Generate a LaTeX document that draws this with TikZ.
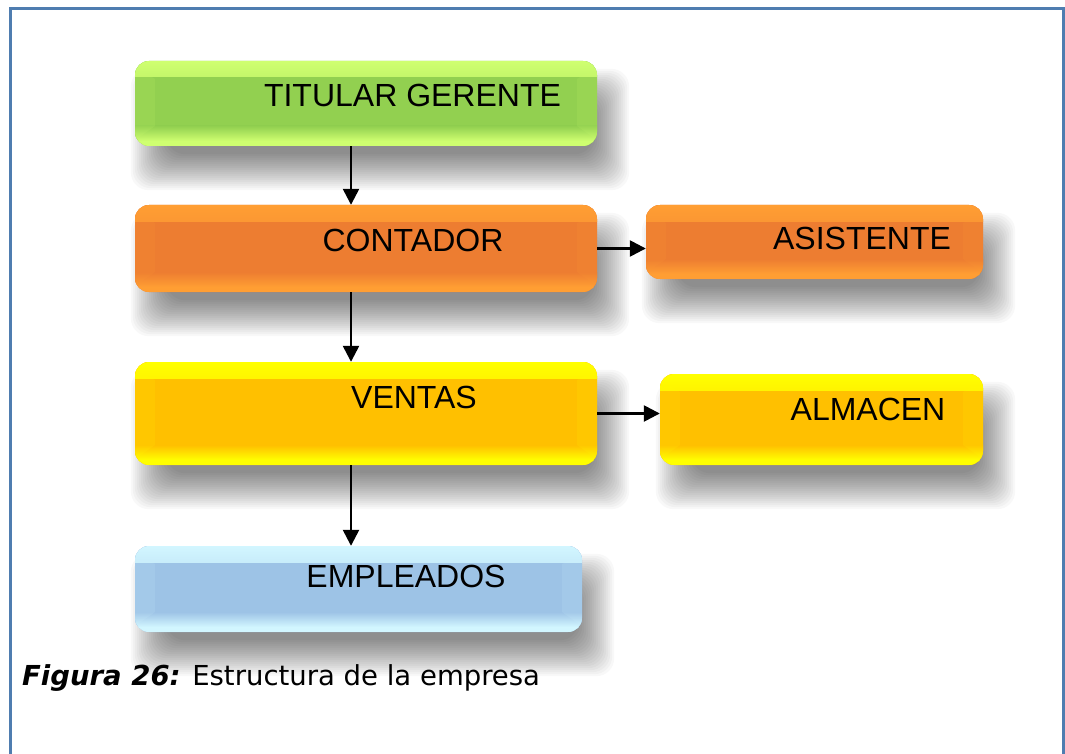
\documentclass[tikz,border=0pt]{standalone}
\usepackage{fontspec}
\setmainfont{Liberation Sans}
\newfontfamily\capfont{DejaVu Sans}
\usetikzlibrary{arrows.meta,calc,backgrounds}
\definecolor{gmain}{HTML}{92D050}
\definecolor{glight}{HTML}{CFFF70}
\definecolor{omain}{HTML}{ED7D31}
\definecolor{olight}{HTML}{FF9E33}
\definecolor{ymain}{HTML}{FFC000}
\definecolor{ylight}{HTML}{FFFF00}
\definecolor{bmain}{HTML}{9DC3E6}
\definecolor{blight}{HTML}{D2F6FF}
\definecolor{framecol}{HTML}{4F7DB0}
\tikzset{
  x=1pt,y=-1pt,
  glossy/.style n args={2}{
    draw=none, fill=#1, rounded corners=14pt, inner sep=0pt,
    path picture={
      \fill[sharp corners, top color=#2, bottom color=#1]
        (path picture bounding box.north west) rectangle ([yshift=-16pt]path picture bounding box.north east);
      \fill[sharp corners, top color=#1, bottom color=#2]
        ([yshift=20pt]path picture bounding box.south west) rectangle ([yshift=5pt]path picture bounding box.south east);
      \fill[sharp corners, #2]
        ([yshift=5pt]path picture bounding box.south west) rectangle (path picture bounding box.south east);
      \fill[sharp corners, #2, opacity=0.12]
        ([yshift=-6pt]path picture bounding box.north west) -- ([xshift=20pt,yshift=-18pt]path picture bounding box.north west)
        -- ([xshift=20pt,yshift=20pt]path picture bounding box.south west) -- ([yshift=6pt]path picture bounding box.south west) -- cycle;
      \fill[sharp corners, #2, opacity=0.12]
        ([yshift=-6pt]path picture bounding box.north east) -- ([xshift=-20pt,yshift=-18pt]path picture bounding box.north east)
        -- ([xshift=-20pt,yshift=20pt]path picture bounding box.south east) -- ([yshift=6pt]path picture bounding box.south east) -- cycle;
    }
  },
  shadowlayer/.style={fill=black, opacity=0.027, rounded corners=18pt},
  lbl/.style={inner sep=0pt, font=\fontsize{32}{36}\selectfont, text=black},
  arr/.style={draw=black, line width=2.5pt, -{Triangle[length=16pt,width=16pt]}},
}
\newcommand{\boxshadow}[1]{%
  \foreach \i in {0,...,18}{%
    \fill[shadowlayer] ($(#1.north west)+(14-18+2*\i,26-18+2*\i)$) rectangle ($(#1.south east)+(14+18-2*\i,26+18-2*\i)$);
  }%
}
\begin{document}
\begin{tikzpicture}
\useasboundingbox (0,0) rectangle (1065,754);

\node[glossy={gmain}{glight}, minimum width=462pt, minimum height=85pt] (tit) at (366,103.5) {};
\node[glossy={omain}{olight}, minimum width=462pt, minimum height=87pt] (con) at (366,248.5) {};
\node[glossy={omain}{olight}, minimum width=337pt, minimum height=74pt] (asi) at (814.5,242) {};
\node[glossy={ymain}{ylight}, minimum width=462pt, minimum height=103pt] (ven) at (366,413.5) {};
\node[glossy={ymain}{ylight}, minimum width=323pt, minimum height=91pt] (alm) at (821.5,419.5) {};
\node[glossy={bmain}{blight}, minimum width=447pt, minimum height=86pt] (emp) at (358.5,589) {};

\begin{pgfonlayer}{background}
  \fill[white] (0,0) rectangle (1065,754);
  \boxshadow{tit}
  \boxshadow{con}
  \boxshadow{asi}
  \boxshadow{ven}
  \boxshadow{alm}
  \boxshadow{emp}
\end{pgfonlayer}

\draw[framecol, line width=3pt] (10,754) -- (10,8.5) -- (1063,8.5) -- (1063,754);

\node[lbl] (ttit) at (412.5,95) {TITULAR GERENTE};
\node[lbl] (tcon) at (413,240) {CONTADOR};
\node[lbl] (tasi) at (862,238) {ASISTENTE};
\node[lbl] (tven) at (414,397) {VENTAS};
\node[lbl] (talm) at (868,409) {ALMACEN};
\node[lbl] (temp) at (406,576) {EMPLEADOS};

\coordinate (ax) at (351,0);
\draw[arr] (tit.south -| ax) -- (con.north -| ax);
\draw[arr] (con.south -| ax) -- (ven.north -| ax);
\draw[arr] (ven.south -| ax) -- (emp.north -| ax);
\draw[arr] (con.east) -- (asi.west |- con.east);
\draw[arr] (ven.east) -- (alm.west |- ven.east);

\node[anchor=base west, inner sep=0pt, font=\capfont\fontsize{27.5}{32}\selectfont] (cap) at (22,685)
  {\textbf{\textit{Figura 26:}} Estructura de la empresa};
\end{tikzpicture}
\end{document}
